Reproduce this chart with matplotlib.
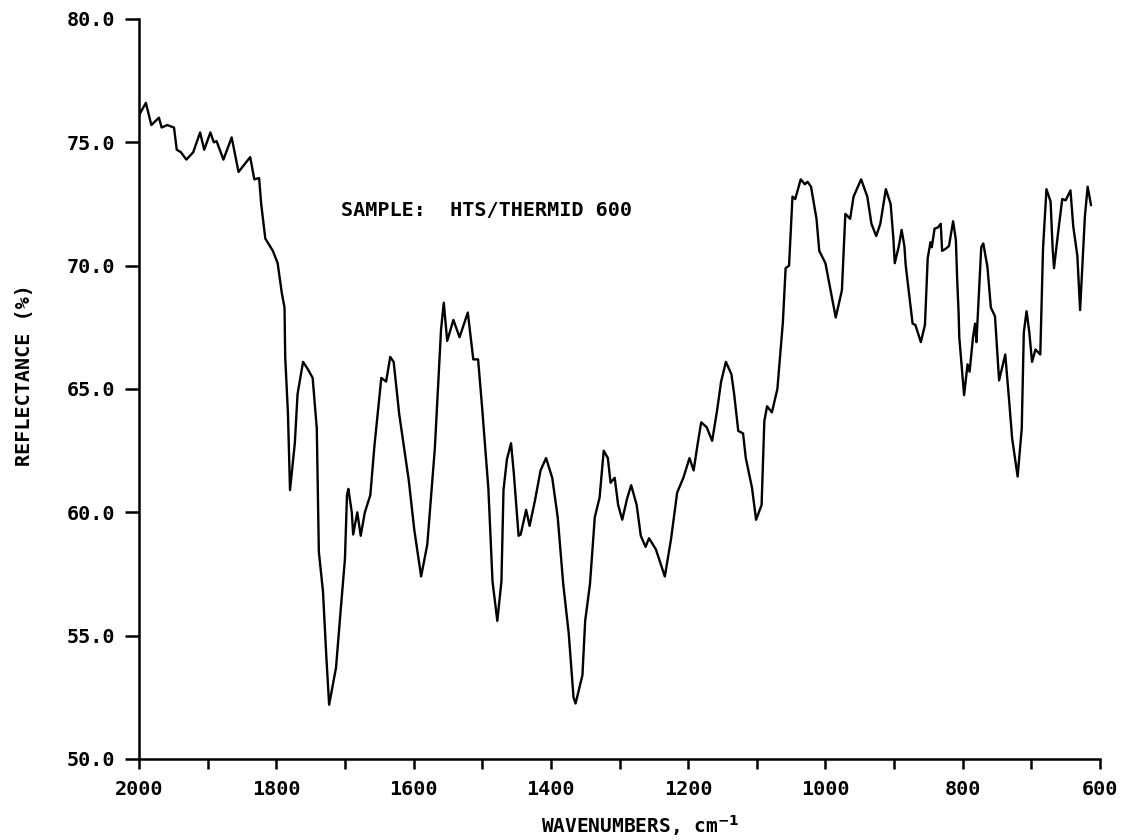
import matplotlib
matplotlib.use("Agg")
import matplotlib.pyplot as plt
from matplotlib.ticker import MultipleLocator, FormatStrFormatter

plt.rcParams['font.family'] = ['DejaVu Sans Mono', 'DejaVu Sans']
plt.rcParams['font.weight'] = 'bold'
plt.rcParams['mathtext.default'] = 'bf'

# Spectrum (wavenumber in cm^-1, reflectance in %)
wavenumber = [2000, 1990, 1982, 1971, 1967, 1959, 1949, 1945, 1939, 1931,
              1921, 1911, 1905, 1896, 1891, 1887, 1877, 1865, 1855, 1838,
              1832, 1825, 1822, 1816, 1805, 1798, 1792, 1788, 1787, 1783,
              1780, 1773, 1769, 1761, 1754, 1747, 1741, 1738, 1732, 1727,
              1723, 1713, 1706, 1700, 1697, 1695, 1690, 1688, 1682, 1677,
              1671, 1663, 1657, 1647, 1640, 1634, 1629, 1621, 1607, 1599,
              1589, 1580, 1569, 1560, 1556, 1551, 1542, 1533, 1521, 1513,
              1506, 1500, 1491, 1485, 1478, 1472, 1469, 1464, 1458, 1454,
              1447, 1444, 1436, 1431, 1423, 1415, 1407, 1398, 1390, 1382,
              1374, 1367, 1364, 1354, 1350, 1343, 1336, 1329, 1323, 1317,
              1313, 1307, 1302, 1296, 1289, 1283, 1275, 1269, 1262, 1257,
              1247, 1234, 1225, 1216, 1207, 1198, 1192, 1186, 1181, 1173,
              1165, 1158, 1152, 1145, 1137, 1133, 1127, 1120, 1116, 1107,
              1101, 1093, 1089, 1085, 1078, 1070, 1062, 1058, 1053, 1048,
              1044, 1036, 1030, 1026, 1021, 1013, 1009, 1000, 987, 985,
              976, 971, 964, 959, 948, 939, 933, 926, 920, 912,
              905, 901, 899, 893, 889, 885, 883, 875, 873, 869,
              861, 855, 851, 847, 845, 841, 836, 832, 830, 824,
              820, 814, 810, 808, 806, 805, 798, 793, 790, 785,
              782, 780, 773, 770, 764, 759, 753, 751, 747, 738,
              732, 728, 720, 714, 711, 707, 703, 699, 694, 687,
              683, 678, 672, 669, 667, 661, 655, 650, 643, 639,
              633, 629, 622, 618, 613]

reflectance = [76.1, 76.6, 75.7, 76.0, 75.6, 75.7, 75.6, 74.7, 74.6, 74.3,
               74.6, 75.4, 74.7, 75.4, 75.0, 75.05, 74.3, 75.2, 73.8, 74.4,
               73.5, 73.55, 72.5, 71.1, 70.6, 70.1, 68.9, 68.3, 66.3, 64.0,
               60.9, 62.8, 64.8, 66.1, 65.8, 65.45, 63.4, 58.4, 56.8, 54.1,
               52.2, 53.7, 56.1, 58.1, 60.7, 60.95, 60.0, 59.1, 60.0, 59.05,
               60.0, 60.7, 62.7, 65.45, 65.3, 66.3, 66.1, 64.0, 61.3, 59.3,
               57.4, 58.7, 62.6, 67.4, 68.5, 66.95, 67.8, 67.1, 68.1, 66.2,
               66.2, 64.2, 60.95, 57.2, 55.6, 57.2, 60.9, 62.15, 62.8, 61.6,
               59.05, 59.1, 60.1, 59.45, 60.5, 61.7, 62.2, 61.4, 59.8, 57.1,
               55.1, 52.5, 52.25, 53.4, 55.6, 57.1, 59.8, 60.6, 62.5, 62.2,
               61.2, 61.4, 60.3, 59.7, 60.55, 61.1, 60.3, 59.05, 58.6, 58.95,
               58.5, 57.4, 58.9, 60.8, 61.4, 62.2, 61.7, 62.8, 63.65, 63.45,
               62.9, 64.1, 65.3, 66.1, 65.6, 64.8, 63.3, 63.2, 62.2, 61.0,
               59.7, 60.3, 63.7, 64.3, 64.05, 65.0, 67.7, 69.9, 70.0, 72.8,
               72.7, 73.5, 73.3, 73.4, 73.2, 71.9, 70.6, 70.1, 68.2, 67.9,
               69.0, 72.1, 71.9, 72.8, 73.5, 72.8, 71.7, 71.2, 71.7, 73.1,
               72.5, 71.1, 70.1, 70.8, 71.45, 70.8, 70.0, 68.1, 67.65, 67.6,
               66.9, 67.6, 70.3, 70.95, 70.75, 71.5, 71.55, 71.7, 70.6, 70.7,
               70.8, 71.8, 71.05, 69.4, 68.1, 67.1, 64.75, 66.0, 65.7, 67.1,
               67.65, 66.9, 70.75, 70.9, 69.95, 68.3, 67.95, 67.1, 65.35, 66.4,
               64.4, 63.0, 61.45, 63.4, 67.3, 68.15, 67.3, 66.1, 66.6, 66.4,
               70.7, 73.1, 72.6, 70.7, 69.9, 71.35, 72.7, 72.65, 73.05, 71.6,
               70.4, 68.2, 72.0, 73.2, 72.45]

x_major = [2000, 1800, 1600, 1400, 1200, 1000, 800, 600]
y_major = [50, 55, 60, 65, 70, 75, 80]

W, H = 1127, 840
fig = plt.figure(figsize=(W / 100, H / 100), dpi=100)
ax = fig.add_axes([139 / W, (H - 759) / H, 961 / W, 740 / H])

ax.plot(wavenumber, reflectance, color='black', lw=1.7,
        solid_joinstyle='round', solid_capstyle='round')

ax.set_xlim(2000, 600)
ax.set_ylim(50, 80)
for s in ('top', 'right'):
    ax.spines[s].set_visible(False)
for s in ('left', 'bottom'):
    ax.spines[s].set_linewidth(1.8)

ax.set_xticks(x_major)
ax.xaxis.set_minor_locator(MultipleLocator(100))
ax.set_yticks(y_major)
ax.yaxis.set_major_formatter(FormatStrFormatter('%.1f'))
ax.tick_params(axis='x', which='both', direction='out', length=7, width=1.8,
               pad=8, labelsize=14.5)
ax.tick_params(axis='y', which='both', direction='out', length=10, width=1.8,
               pad=7, labelsize=14.5)

fig.text(25 / W, 1 - 375 / H, 'REFLECTANCE (%)', rotation=90,
         ha='center', va='center', fontsize=14.5, fontweight='bold')
fig.text(640 / W, 1 - 826 / H, 'WAVENUMBERS, cm$^{-1}$',
         ha='center', va='center', fontsize=14, fontweight='bold')
fig.text(341 / W, 1 - 210 / H, 'SAMPLE:  HTS/THERMID 600',
         ha='left', va='center', fontsize=14.5, fontweight='bold')

fig.savefig('out.png', dpi=100, facecolor='white')
